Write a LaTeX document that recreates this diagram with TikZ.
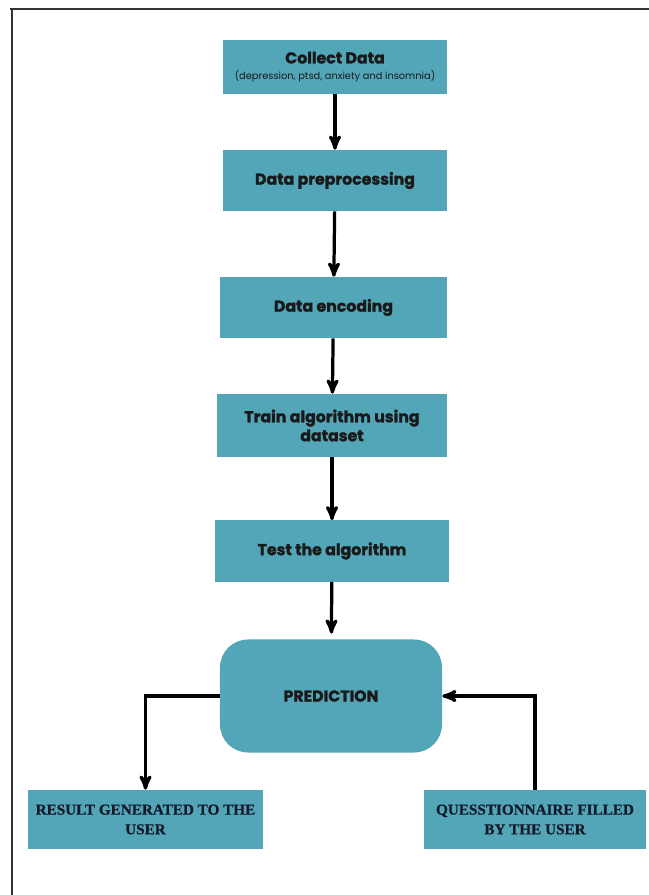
\documentclass[tikz,border=0pt]{standalone}
\usepackage{fontspec}
\setmainfont{Poppins}
\newfontfamily\heavyfont{Poppins}[BoldFeatures={FakeBold=1.6}]
\newfontfamily\slabfont{Liberation Serif}[BoldFeatures={FakeBold=0.6}]
\usetikzlibrary{arrows}
\definecolor{boxteal}{RGB}{83,166,184}
\definecolor{textnavy}{RGB}{18,26,42}
\definecolor{framegrey}{RGB}{50,50,50}

\begin{document}
\begin{tikzpicture}[x=0.025cm, y=-0.025cm]

  % Styles des boites et des fleches
  \tikzstyle{etape} = [fill=boxteal, align=center, inner sep=2pt, text=black!90, font=\heavyfont\fontsize{11.2}{13.5}\selectfont\bfseries]
  \tikzstyle{sortie} = [fill=boxteal, align=center, inner sep=2pt, text=textnavy, font=\slabfont\fontsize{10.8}{14}\selectfont\bfseries]
  \tikzstyle{flow} = [->, >=stealth', line width=2.3pt]

  % Cadre
  \useasboundingbox (0,0) rectangle (649,895);
  \draw[framegrey, line width=1pt] (10,9) -- (649,9);
  \draw[framegrey, line width=1pt] (12,9) -- (12,895);

  % Liste des boxes
  \draw (335,67) node[etape, minimum width=5.6cm, minimum height=1.35cm] (collect)
    {Collect Data\\[-2pt]{\mdseries\fontsize{7}{8}\selectfont (depression, ptsd, anxiety and insomnia)}};
  \draw (335,180.5) node[etape, minimum width=5.6cm, minimum height=1.525cm] (preproc) {Data preprocessing};
  \draw (333.5,307.5) node[etape, minimum width=5.675cm, minimum height=1.525cm] (encode) {Data encoding};
  \draw (332,425.5) node[etape, minimum width=5.75cm, minimum height=1.575cm] (train) {Train algorithm using\\dataset};
  \draw (332,551) node[etape, minimum width=5.85cm, minimum height=1.525cm] (test) {Test the algorithm};
  \draw (331,696) node[etape, rounded corners=0.7cm, minimum width=5.55cm, minimum height=2.825cm] (predict) {PREDICTION};
  \draw (145.5,819.5) node[sortie, minimum width=5.85cm, minimum height=1.475cm] (result) {RESULT GENERATED TO THE\\USER};
  \draw (535,819.5) node[sortie, minimum width=5.55cm, minimum height=1.475cm] (quest) {QUESSTIONNAIRE FILLED\\BY THE USER};

  % Enchainement des etapes
  \draw[flow] (collect) -- (preproc);
  \draw[flow] (preproc) -- (encode);
  \draw[flow] (encode) -- (train);
  \draw[flow] (train) -- (test);
  \draw[flow, shorten >=4pt] (test) -- (predict);

  % Prediction <-> utilisateur
  \draw[flow] (predict.west) -| (result.north);
  \draw[flow] (quest.north) |- (predict.east);

\end{tikzpicture}
\end{document}
